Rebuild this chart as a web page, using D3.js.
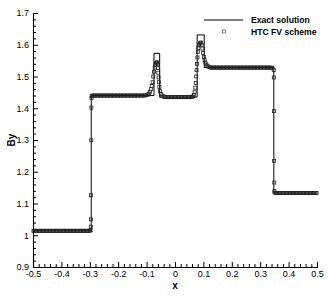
<!DOCTYPE html>
<html>
<head>
<meta charset="utf-8">
<script src="https://cdn.jsdelivr.net/npm/d3@7"></script>
<style>
  body { margin: 0; background: #fff; }
  svg { display: block; font-family: "Liberation Sans", Arial, Helvetica, sans-serif; }
</style>
</head>
<body>
<svg id="chart" width="332" height="296"></svg>
<script>
// tick labels
const xTicks = [-0.5, -0.4, -0.3, -0.2, -0.1, 0, 0.1, 0.2, 0.3, 0.4, 0.5];
const xTickLabels = ["-0.5", "-0.4", "-0.3", "-0.2", "-0.1", "0", "0.1", "0.2", "0.3", "0.4", "0.5"];
const yTicks = [0.9, 1, 1.1, 1.2, 1.3, 1.4, 1.5, 1.6, 1.7];
const yTickLabels = ["0.9", "1", "1.1", "1.2", "1.3", "1.4", "1.5", "1.6", "1.7"];

// exact solution (piecewise constant)
const exactX = [-0.5, -0.295, -0.295, -0.074, -0.074, -0.054, -0.054, 0.078, 0.078, 0.103, 0.103, 0.348, 0.348, 0.5];
const exactBy = [1.014, 1.014, 1.44, 1.44, 1.573, 1.573, 1.435, 1.435, 1.631, 1.631, 1.528, 1.528, 1.133, 1.133];

// HTC FV scheme
const htcX = [
  -0.4985, -0.495, -0.49, -0.485, -0.48, -0.475, -0.47, -0.465, -0.46, -0.455, -0.45, -0.445, -0.44, -0.435,
  -0.43, -0.425, -0.42, -0.415, -0.41, -0.405, -0.4, -0.395, -0.39, -0.385, -0.38, -0.375, -0.37, -0.365,
  -0.36, -0.355, -0.35, -0.345, -0.34, -0.335, -0.33, -0.325, -0.32, -0.315, -0.31, -0.305, -0.3,
  -0.297, -0.2965, -0.296, -0.2955, -0.295, -0.2945, -0.294, -0.2935,
  -0.29, -0.285, -0.28, -0.275, -0.27, -0.265, -0.26, -0.255, -0.25, -0.245, -0.24, -0.235, -0.23, -0.225,
  -0.22, -0.215, -0.21, -0.205, -0.2, -0.195, -0.19, -0.185, -0.18, -0.175, -0.17, -0.165, -0.16, -0.155,
  -0.15, -0.145, -0.14, -0.135, -0.13, -0.125, -0.12, -0.115, -0.11, -0.105, -0.1,
  -0.095, -0.0915, -0.088, -0.085, -0.082, -0.079, -0.0765, -0.074, -0.0715, -0.069, -0.0665, -0.064,
  -0.062, -0.0605, -0.059, -0.0578, -0.0565, -0.055, -0.0525, -0.049, -0.045, -0.04, -0.035,
  -0.03, -0.025, -0.02, -0.015, -0.01, -0.005, 0, 0.005, 0.01, 0.015, 0.02, 0.025, 0.03, 0.035, 0.04,
  0.045, 0.05, 0.055, 0.06,
  0.0635, 0.0665, 0.069, 0.0715, 0.073, 0.0745, 0.076, 0.0775, 0.079, 0.0805, 0.082, 0.084, 0.0865,
  0.089, 0.0915, 0.094, 0.0965, 0.099, 0.1015, 0.104, 0.107, 0.11, 0.114, 0.118, 0.123, 0.128,
  0.133, 0.138, 0.143, 0.148, 0.153, 0.158, 0.163, 0.168, 0.173, 0.178, 0.183, 0.188, 0.193, 0.198,
  0.203, 0.208, 0.213, 0.218, 0.223, 0.228, 0.233, 0.238, 0.243, 0.248, 0.253, 0.258, 0.263, 0.268,
  0.273, 0.278, 0.283, 0.288, 0.293, 0.298, 0.303, 0.308, 0.313, 0.318, 0.323, 0.328, 0.333, 0.338, 0.343,
  0.3475, 0.348, 0.3485, 0.349, 0.3495, 0.35, 0.3505,
  0.355, 0.36, 0.365, 0.37, 0.375, 0.38, 0.385, 0.39, 0.395, 0.4, 0.405, 0.41, 0.415, 0.42, 0.425,
  0.43, 0.435, 0.44, 0.445, 0.45, 0.455, 0.46, 0.465, 0.47, 0.475, 0.48, 0.485, 0.49, 0.495, 0.4985
];
const htcBy = [
  1.014, 1.014, 1.014, 1.014, 1.014, 1.014, 1.014, 1.014, 1.014, 1.014, 1.014, 1.014, 1.014, 1.014,
  1.014, 1.014, 1.014, 1.014, 1.014, 1.014, 1.014, 1.014, 1.014, 1.014, 1.014, 1.014, 1.014, 1.014,
  1.014, 1.014, 1.014, 1.014, 1.014, 1.014, 1.014, 1.014, 1.014, 1.014, 1.014, 1.014, 1.014,
  1.016, 1.027, 1.05, 1.126, 1.299, 1.402, 1.432, 1.439,
  1.44, 1.44, 1.44, 1.44, 1.44, 1.44, 1.44, 1.44, 1.44, 1.44, 1.44, 1.44, 1.44, 1.44,
  1.44, 1.44, 1.44, 1.44, 1.44, 1.44, 1.44, 1.44, 1.44, 1.44, 1.44, 1.44, 1.44, 1.44,
  1.44, 1.44, 1.44, 1.44, 1.44, 1.44, 1.44, 1.44, 1.44, 1.441, 1.441,
  1.443, 1.446, 1.452, 1.46, 1.47, 1.482, 1.5, 1.515, 1.528, 1.537, 1.543, 1.545,
  1.54, 1.527, 1.512, 1.497, 1.482, 1.467, 1.454, 1.445, 1.44, 1.437, 1.436,
  1.435, 1.435, 1.435, 1.435, 1.435, 1.435, 1.435, 1.435, 1.435, 1.435, 1.435, 1.435, 1.435, 1.435, 1.435,
  1.435, 1.435, 1.435, 1.436,
  1.437, 1.442, 1.452, 1.465, 1.48, 1.5, 1.52, 1.54, 1.56, 1.578, 1.59, 1.598, 1.603,
  1.606, 1.607, 1.6, 1.588, 1.574, 1.562, 1.552, 1.544, 1.538, 1.534, 1.531, 1.529, 1.528,
  1.528, 1.528, 1.528, 1.528, 1.528, 1.528, 1.528, 1.528, 1.528, 1.528, 1.528, 1.528, 1.528, 1.528,
  1.528, 1.528, 1.528, 1.528, 1.528, 1.528, 1.528, 1.528, 1.528, 1.528, 1.528, 1.528, 1.528, 1.528,
  1.528, 1.528, 1.528, 1.528, 1.528, 1.528, 1.528, 1.528, 1.528, 1.528, 1.528, 1.528, 1.528, 1.528, 1.527,
  1.52, 1.497, 1.391, 1.234, 1.166, 1.139, 1.134,
  1.133, 1.133, 1.133, 1.133, 1.133, 1.133, 1.133, 1.133, 1.133, 1.133, 1.133, 1.133, 1.133, 1.133, 1.133,
  1.133, 1.133, 1.133, 1.133, 1.133, 1.133, 1.133, 1.133, 1.133, 1.133, 1.133, 1.133, 1.133, 1.133, 1.133
];

const legendNames = ["Exact solution", "HTC FV scheme"];

const svg = d3.select("#chart");
const margin = { left: 33, right: 15, top: 13, bottom: 29 };
const width = 332, height = 296;

const x = d3.scaleLinear().domain([-0.5, 0.5]).range([margin.left, width - margin.right]);
const y = d3.scaleLinear().domain([0.9, 1.7]).range([height - margin.bottom, margin.top]);

// minor ticks every 0.02
const xMinor = d3.range(-0.5, 0.5001, 0.02).filter(v => Math.abs(Math.round(v * 10) - v * 10) > 1e-6);
const yMinor = d3.range(0.9, 1.7001, 0.02).filter(v => Math.abs(Math.round(v * 10) - v * 10) > 1e-6);

const gx = svg.append("g").attr("transform", `translate(0,${y(0.9)})`);
gx.call(d3.axisBottom(x).tickValues(xTicks).tickFormat((d, i) => xTickLabels[i]).tickSize(-5).tickPadding(4));
gx.append("g").call(d3.axisBottom(x).tickValues(xMinor).tickFormat("").tickSize(-3))
  .select(".domain").remove();

const gy = svg.append("g").attr("transform", `translate(${x(-0.5)},0)`);
gy.call(d3.axisLeft(y).tickValues(yTicks).tickFormat((d, i) => yTickLabels[i]).tickSize(-5).tickPadding(4));
gy.append("g").call(d3.axisLeft(y).tickValues(yMinor).tickFormat("").tickSize(-3))
  .select(".domain").remove();

svg.selectAll(".domain").attr("stroke", "#000").attr("stroke-width", 1.1);
svg.selectAll(".tick line").attr("stroke", "#000");
svg.selectAll(".tick text").attr("font-size", 9).attr("fill", "#000")
  .attr("font-family", "'Liberation Sans', Arial, sans-serif");

// exact solution
const line = d3.line().x((d, i) => x(exactX[i])).y(d => y(d));
svg.append("path").datum(exactBy)
  .attr("d", line)
  .attr("fill", "none")
  .attr("stroke", "#000")
  .attr("stroke-width", 1);

// numerical points
const sq = 3;
svg.append("g").selectAll("rect")
  .data(htcBy)
  .join("rect")
  .attr("x", (d, i) => x(htcX[i]) - sq / 2)
  .attr("y", d => y(d) - sq / 2)
  .attr("width", sq)
  .attr("height", sq)
  .attr("fill", "none")
  .attr("stroke", "#222")
  .attr("stroke-width", 0.8);

// axis titles
svg.append("text")
  .attr("x", x(0)).attr("y", 289)
  .attr("text-anchor", "middle")
  .attr("font-size", 10).attr("font-weight", "bold")
  .text("x");
svg.append("text")
  .attr("transform", `translate(15,${(y(0.9) + y(1.7)) / 2}) rotate(-90)`)
  .attr("text-anchor", "middle")
  .attr("font-size", 10).attr("font-weight", "bold")
  .text("By");

// legend
const lg = svg.append("g");
lg.append("line").attr("x1", 204).attr("x2", 243).attr("y1", 20).attr("y2", 20)
  .attr("stroke", "#000").attr("stroke-width", 1);
lg.append("rect").attr("x", 224 - sq / 2).attr("y", 31.5 - sq / 2).attr("width", sq).attr("height", sq)
  .attr("fill", "none").attr("stroke", "#555").attr("stroke-width", 0.7);
lg.selectAll("text.leg").data(legendNames).join("text")
  .attr("class", "leg")
  .attr("x", 251).attr("y", (d, i) => 23 + i * 11.5)
  .attr("font-size", 8.6).attr("font-weight", "bold")
  .text(d => d);
</script>
</body>
</html>
